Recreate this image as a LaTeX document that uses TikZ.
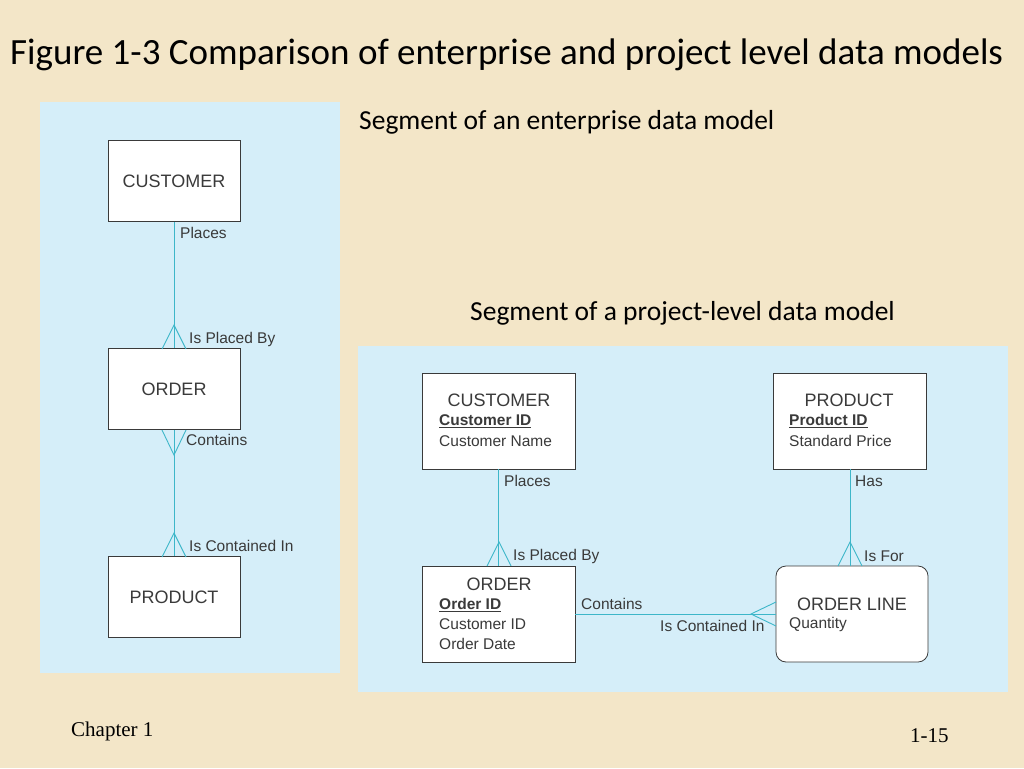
\documentclass[tikz,border=0pt]{standalone}
\usepackage{fontspec}
\setmainfont{Liberation Sans}
\newfontfamily\titlefont{Carlito}
\newfontfamily\seriffont{Liberation Serif}
\usetikzlibrary{positioning}
\definecolor{paper}{HTML}{F3E6C8}
\definecolor{panel}{HTML}{D5EEF9}
\definecolor{rel}{HTML}{3DB6C9}
\definecolor{ink}{HTML}{3A3A3A}

\tikzset{
  entity/.style={draw=ink, fill=white, line width=0.8pt, inner sep=0pt},
  rel/.style={draw=rel, line width=0.9pt},
  lbl/.style={font=\fontsize{15.5}{17}\selectfont, text=ink, anchor=west, inner sep=0pt},
  ename/.style={font=\fontsize{18}{20}\selectfont, text=ink, inner sep=0pt},
}

\begin{document}
\begin{tikzpicture}[x=1pt, y=-1pt]
\useasboundingbox (0,0) rectangle (1024,768);
\fill[paper] (0,0) rectangle (1024,768);
\fill[panel] (40,102) rectangle (340,673);
\fill[panel] (358,346) rectangle (1008,692);

\node[anchor=west, inner sep=0pt, font=\titlefont\fontsize{37}{40}\selectfont] (title) at (10,55)
  {Figure 1-3 Comparison of enterprise and project level data models};
\node[anchor=west, inner sep=0pt, font=\titlefont\fontsize{27.5}{30}\selectfont] (ent) at (359,122)
  {Segment of an enterprise data model};
\node[anchor=west, inner sep=0pt, font=\titlefont\fontsize{27.5}{30}\selectfont] (proj) at (470,313)
  {Segment of a project-level data model};

% enterprise model
\node[entity, ename, minimum width=132pt, minimum height=81pt] (cust) at (174,181) {CUSTOMER};
\node[entity, ename, minimum width=132pt, minimum height=81pt] (ord) at (174,389) {ORDER};
\node[entity, ename, minimum width=132pt, minimum height=81pt] (prod) at (174,597) {PRODUCT};
\draw[rel] (cust) -- (ord);
\draw[rel] (ord) -- (prod);
\draw[rel] (162,349) -- (174,325) -- (186,349);
\draw[rel] (162,430) -- (174,455) -- (186,430);
\draw[rel] (162,557) -- (174,533) -- (186,557);
\node[lbl] (l1) at (180,233) {Places};
\node[lbl] (l2) at (189,339) {Is Placed By};
\node[lbl] (l3) at (186,440) {Contains};
\node[lbl] (l4) at (189,546) {Is Contained In};

% project-level model
\node[entity, minimum width=153pt, minimum height=96pt] (pcust) at (498.5,421) {};
\node[ename] at (499,400) {CUSTOMER};
\node[lbl] at (439,421) {\bfseries\underline{Customer ID}};
\node[lbl] at (439,441) {Customer Name};

\node[entity, minimum width=153pt, minimum height=96pt] (pprod) at (849.5,421) {};
\node[ename] at (849,400) {PRODUCT};
\node[lbl] at (789,421) {\bfseries\underline{Product ID}};
\node[lbl] at (789,441) {Standard Price};

\node[entity, minimum width=153pt, minimum height=96pt] (pord) at (498.5,614) {};
\node[ename] at (499,584) {ORDER};
\node[lbl] at (439,605) {\bfseries\underline{Order ID}};
\node[lbl] at (439,624) {Customer ID};
\node[lbl] at (439,644) {Order Date};

\node[entity, rounded corners=10pt, minimum width=152pt, minimum height=96pt] (pline) at (852,614) {};
\node[ename] at (852,604) {ORDER LINE};
\node[lbl] at (789,624) {Quantity};

\draw[rel] (pcust) -- (pord);
\draw[rel] (487,566) -- (499,542) -- (511,566);
\draw[rel] (850,469) -- (850,566);
\draw[rel] (838,566) -- (850,542) -- (862,566);
\draw[rel] (pord) -- (pline);
\draw[rel] (776,602) -- (751,614) -- (776,626);
\node[lbl] at (504,481) {Places};
\node[lbl] at (513,556) {Is Placed By};
\node[lbl] at (855,481) {Has};
\node[lbl] at (864,556) {Is For};
\node[lbl] at (581,604) {Contains};
\node[lbl] at (660,626) {Is Contained In};

\node[anchor=west, inner sep=0pt, font=\seriffont\fontsize{21}{23}\selectfont] (chap) at (71,731) {Chapter 1};
\node[anchor=west, inner sep=0pt, font=\seriffont\fontsize{21}{23}\selectfont] (page) at (910,736) {1-15};
\end{tikzpicture}
\end{document}
